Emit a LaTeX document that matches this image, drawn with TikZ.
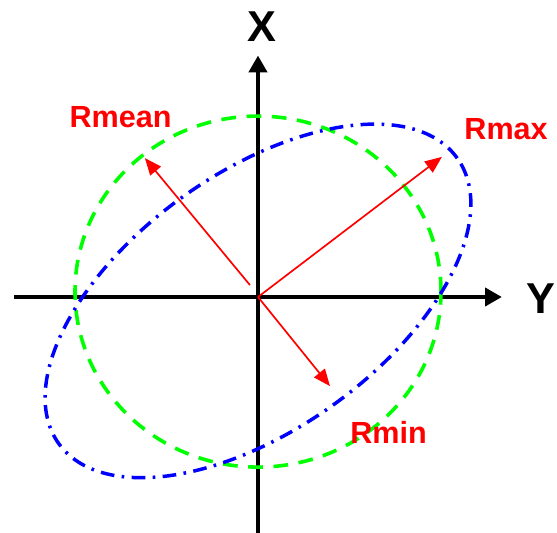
\documentclass[tikz,border=0pt]{standalone}
\usepackage{fontspec}
\setmainfont{Liberation Sans}
\usepackage{tikz}
\usetikzlibrary{arrows.meta}
\definecolor{AxisBlack}{HTML}{000000}
\definecolor{MeanGreen}{HTML}{00FF00}
\definecolor{FitBlue}{HTML}{0000FF}
\definecolor{RadRed}{HTML}{FF0000}
\tikzset{
    axisline/.style={
        -{Triangle[length=16pt,width=17pt]}, line width=4.5pt, color=AxisBlack
    },
    meancircle/.style={
        draw=MeanGreen, line width=3.4pt, dash pattern=on 14pt off 10pt
    },
    fitellipse/.style={
        draw=FitBlue, line width=3.3pt, dash pattern=on 13pt off 7pt on 2.5pt off 7pt
    },
    radarrow/.style={
        -{Triangle[length=16pt,width=13pt]}, line width=1.6pt, color=RadRed
    },
    axislabel/.style={
        font=\fontsize{41}{41}\selectfont\bfseries, text=AxisBlack, inner sep=0pt
    },
    rlabel/.style={
        font=\fontsize{29}{29}\selectfont\bfseries, text=RadRed, inner sep=0pt
    },
}
\begin{document}
\begin{tikzpicture}
    \useasboundingbox (-8.6,-7.867) rectangle (9.967,9.9);

    % Axis ends
    \coordinate (O) at (0,0);
    \coordinate (yleft) at (-8.13,0);
    \coordinate (yright) at (8.13,0);
    \coordinate (xbottom) at (0,-8.0);
    \coordinate (xtop) at (0,8.05);

    % Axes
    \draw[axisline] (yleft) -- (yright);
    \draw[axisline] (xbottom) -- (xtop);
    \node[axislabel] (xlabel) at (0.12,9.0) {X};
    \node[axislabel] (ylabel) at (9.43,-0.07) {Y};

    % Mean circle
    \draw[meancircle] (0,0.18) ellipse [x radius=6.1, y radius=5.85];

    % Fitted ellipse
    \draw[fitellipse, shift={(0,-0.13)}, rotate=35.6] (0,0) ellipse [x radius=8.17, y radius=4.28];

    % Radii
    \coordinate (meanstart) at (-0.27,0.4);
    \coordinate (meantip) at (-3.77,4.63);
    \coordinate (maxtip) at (6.13,4.67);
    \coordinate (mintip) at (2.4,-2.97);
    \draw[radarrow] (meanstart) -- (meantip);
    \draw[radarrow] (O) -- (maxtip);
    \draw[radarrow] (O) -- (mintip);

    \node[rlabel] (rmeanlabel) at (-4.58,6.0) {Rmean};
    \node[rlabel] (rmaxlabel) at (8.27,5.6) {Rmax};
    \node[rlabel] (rminlabel) at (4.35,-4.5) {Rmin};
\end{tikzpicture}
\end{document}
